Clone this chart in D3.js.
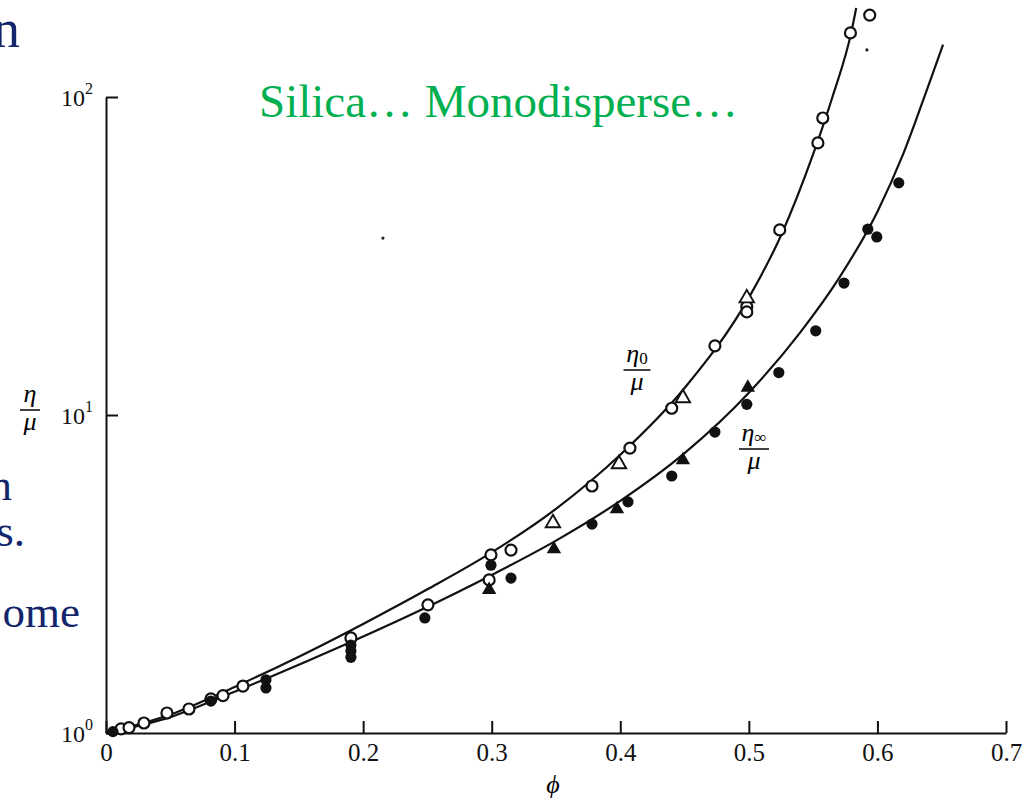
<!DOCTYPE html>
<html>
<head>
<meta charset="utf-8">
<script src="https://cdn.jsdelivr.net/npm/d3@7"></script>
<style>
  html, body { margin: 0; padding: 0; background: #fff; }
  svg { display: block; font-family: "Liberation Serif", "Times New Roman", serif; }
  .axis path, .axis line { stroke: #111; stroke-width: 2; }
  .axis text { fill: #111; font-family: "Liberation Serif", "Times New Roman", serif; }
</style>
</head>
<body>
<div id="chart"></div>
<script>
const width = 1029, height = 801;

// tick values
const xTicks = [0, 0.1, 0.2, 0.3, 0.4, 0.5, 0.6, 0.7];
const yTicks = [1, 10, 100];
const yTickExp = ["0", "1", "2"];

// measured points [phi, eta/mu]
const openCircles = [
  [0.0117, 1.03], [0.0179, 1.04], [0.0295, 1.075], [0.0474, 1.156], [0.0645, 1.19],
  [0.0816, 1.28], [0.091, 1.31], [0.1065, 1.405], [0.1905, 1.99], [0.2504, 2.53],
  [0.2994, 3.63], [0.298, 3.03], [0.315, 3.76], [0.378, 5.98], [0.4075, 7.87],
  [0.440, 10.5], [0.4736, 16.5], [0.4984, 21.9], [0.4984, 21.1], [0.524, 38.2],
  [0.5537, 71.7], [0.5575, 85.9], [0.579, 159], [0.594, 181]
];
const openTriangles = [
  [0.3476, 4.57], [0.399, 7.01], [0.4487, 11.3], [0.4984, 23.3]
];
const filledCircles = [
  [0.0054, 1.01], [0.0816, 1.26], [0.1244, 1.47], [0.1244, 1.385],
  [0.1905, 1.89], [0.1905, 1.81], [0.1905, 1.73], [0.248, 2.30],
  [0.2994, 3.37], [0.315, 3.07], [0.378, 4.54], [0.406, 5.33], [0.440, 6.43],
  [0.4736, 8.84], [0.4984, 10.8], [0.5233, 13.6], [0.552, 18.4], [0.574, 26.0],
  [0.5925, 38.4], [0.5995, 36.3], [0.6166, 53.7]
];
const filledTriangles = [
  [0.298, 2.82], [0.3484, 3.79], [0.3974, 5.06], [0.4487, 7.22], [0.4992, 12.2]
];

// fitted curves
const eta0Curve = [
  [0, 1.0], [0.05, 1.143], [0.1, 1.396], [0.15, 1.738], [0.2, 2.203], [0.25, 2.831],
  [0.3, 3.698], [0.35, 5.07], [0.4, 7.50], [0.45, 12.16], [0.5, 23.4], [0.525, 36.7],
  [0.55, 66.1], [0.565, 100], [0.58, 162], [0.5835, 190.5]
];
const etaInfCurve = [
  [0, 1.0], [0.05, 1.122], [0.1, 1.349], [0.124, 1.479], [0.19, 1.928], [0.244, 2.427],
  [0.3, 3.141], [0.35, 4.027], [0.4, 5.37], [0.45, 7.586], [0.5, 11.75], [0.54, 18.2],
  [0.57, 26.9], [0.6, 43.6], [0.62, 66.1], [0.64, 109.6], [0.651, 146]
];

// stray specks on the scan
const specks = [[0.2154, 36.0], [0.5918, 140.6]];

const x = d3.scaleLinear().domain([0, 0.7]).range([106, 1006]);
const y = d3.scaleLog().domain([1, 100]).range([733, 97]);

const svg = d3.select("#chart").append("svg")
  .attr("width", width).attr("height", height)
  .attr("viewBox", `0 0 ${width} ${height}`);

svg.append("rect").attr("width", width).attr("height", height).attr("fill", "#fff");

// left-edge slide text fragments (cut by the crop)
const navy = "#13256b";
svg.append("text").attr("x", 20).attr("y", 47).attr("text-anchor", "end")
  .attr("font-size", 54).attr("fill", navy).text("n");
[["n", 500, 12], ["s.", 546, 25], ["ome", 627, 80]].forEach(([t, yy, xr]) => {
  svg.append("text").attr("x", xr).attr("y", yy)
    .attr("text-anchor", "end").attr("font-size", 45).attr("fill", navy).text(t);
});

// axes
svg.append("g")
  .attr("class", "axis")
  .attr("transform", `translate(0,${y(1)})`)
  .call(d3.axisBottom(x).tickValues(xTicks).tickSize(-12).tickSizeOuter(0).tickPadding(10)
    .tickFormat(d => d === 0 ? "0" : d3.format(".1f")(d)))
  .call(g => g.selectAll("text").attr("font-size", 25));

const yAxis = svg.append("g")
  .attr("class", "axis")
  .attr("transform", `translate(${x(0)},0)`)
  .call(d3.axisLeft(y).tickValues(yTicks).tickSize(-12).tickSizeOuter(0).tickPadding(13)
    .tickFormat(() => ""));

yAxis.selectAll(".tick text").each(function(d, i) {
  const t = d3.select(this).attr("font-size", 24).attr("dy", "0.34em");
  t.append("tspan").text("10");
  t.append("tspan").attr("font-size", 16).attr("dy", "-0.7em").text(yTickExp[i]);
});

// axis titles
svg.append("text").attr("x", 553).attr("y", 793).attr("text-anchor", "middle")
  .attr("font-size", 26).attr("font-style", "italic").text("ϕ");

function fraction(cx, lineY, top, sub, w) {
  const g = svg.append("g").attr("font-style", "italic").attr("font-size", 26);
  const tt = g.append("text").attr("x", cx).attr("y", lineY - 8).attr("text-anchor", "middle");
  tt.append("tspan").text(top);
  if (sub) tt.append("tspan").attr("font-size", 17).attr("font-style", "normal").attr("dy", 2).text(sub);
  g.append("line").attr("x1", cx - w / 2).attr("x2", cx + w / 2)
    .attr("y1", lineY).attr("y2", lineY).attr("stroke", "#111").attr("stroke-width", 1.6);
  g.append("text").attr("x", cx).attr("y", lineY + 20).attr("text-anchor", "middle").text("μ");
}
fraction(30, 410, "η", null, 20);
fraction(637, 370, "η", "0", 27);
fraction(754, 449, "η", "∞", 30);

// curves
const line = d3.line().x(d => x(d[0])).y(d => y(d[1])).curve(d3.curveMonotoneX);
[eta0Curve, etaInfCurve].forEach(c => {
  svg.append("path").datum(c).attr("d", line)
    .attr("fill", "none").attr("stroke", "#111").attr("stroke-width", 2.2);
});

// markers
svg.append("g").selectAll("circle").data(openCircles).join("circle")
  .attr("cx", d => x(d[0])).attr("cy", d => y(d[1])).attr("r", 5.5)
  .attr("fill", "#fff").attr("stroke", "#111").attr("stroke-width", 2.2);

svg.append("g").selectAll("circle").data(filledCircles).join("circle")
  .attr("cx", d => x(d[0])).attr("cy", d => y(d[1])).attr("r", 5.6)
  .attr("fill", "#111");

const tri = d3.symbol(d3.symbolTriangle, 90);
svg.append("g").selectAll("path").data(openTriangles).join("path")
  .attr("d", tri).attr("transform", d => `translate(${x(d[0])},${y(d[1])})`)
  .attr("fill", "#fff").attr("stroke", "#111").attr("stroke-width", 1.9);

svg.append("g").selectAll("path").data(filledTriangles).join("path")
  .attr("d", tri).attr("transform", d => `translate(${x(d[0])},${y(d[1])})`)
  .attr("fill", "#111");

svg.append("g").selectAll("circle").data(specks).join("circle")
  .attr("cx", d => x(d[0])).attr("cy", d => y(d[1])).attr("r", 1.6).attr("fill", "#222");

// green annotation
svg.append("text").attr("x", 259).attr("y", 117)
  .attr("font-size", 47).attr("fill", "#00b050")
  .text("Silica… Monodisperse…");
</script>
</body>
</html>
